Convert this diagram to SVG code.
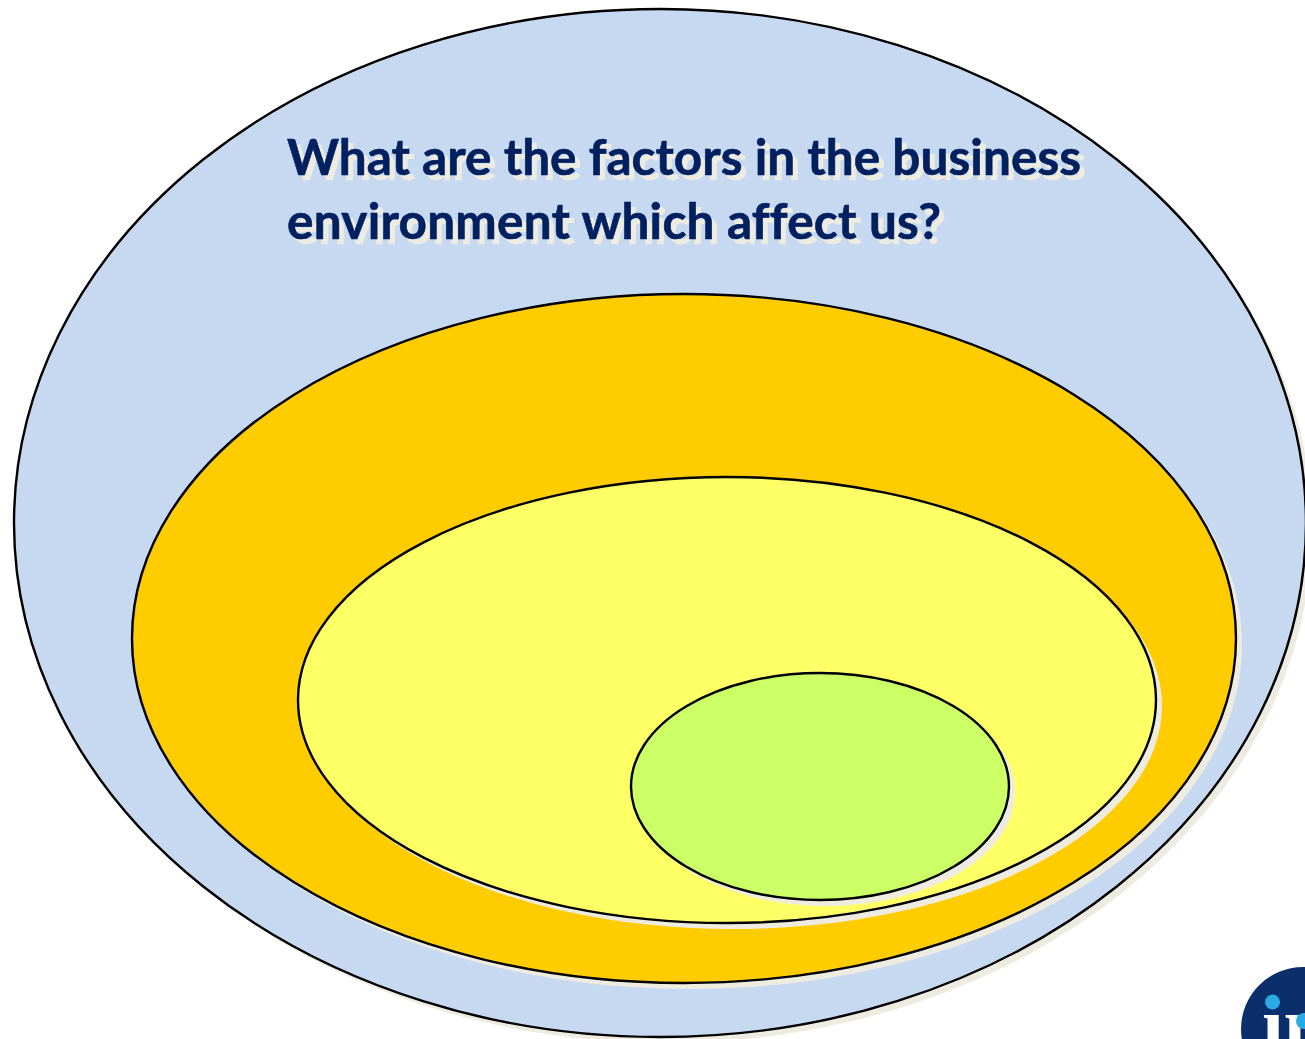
<svg xmlns="http://www.w3.org/2000/svg" width="1305" height="1039" viewBox="0 0 1305 1039">
<style>
.s{fill:#eeece1;stroke:none}
.e{stroke:#000;stroke-width:2.4}
.t{font-family:"Lato","Carlito","Liberation Sans",sans-serif;font-weight:700;font-size:49.5px;fill:#002060;stroke:#002060;stroke-width:.6;font-variant-ligatures:none;filter:url(#ts)}
</style>
<defs>
<filter id="ts" x="-5%" y="-20%" width="110%" height="150%" color-interpolation-filters="sRGB">
<feOffset in="SourceAlpha" dx="5" dy="5" result="o"/>
<feFlood flood-color="#eeece1"/>
<feComposite in2="o" operator="in" result="c"/>
<feMerge><feMergeNode in="c"/><feMergeNode in="SourceGraphic"/></feMerge>
</filter>
</defs>
<rect width="1305" height="1039" fill="#fff"/>
<g id="outer-ellipse"><ellipse class="s" cx="666" cy="529" rx="646" ry="514"/><ellipse class="e" cx="660" cy="523" rx="646" ry="514" fill="#c6d9f1"/></g>
<g id="orange-ellipse"><ellipse class="s" cx="690" cy="644.5" rx="552" ry="344.5"/><ellipse class="e" cx="684" cy="638.5" rx="552" ry="344.5" fill="#ffcc00"/></g>
<g id="yellow-ellipse"><ellipse class="s" cx="733" cy="706" rx="429" ry="223"/><ellipse class="e" cx="727" cy="700" rx="429" ry="223" fill="#ffff66"/></g>
<g id="green-ellipse"><ellipse class="s" cx="826" cy="792.5" rx="189" ry="113.5"/><ellipse class="e" cx="820" cy="786.5" rx="189" ry="113.5" fill="#ccff66"/></g>
<g id="title">
<text class="t" x="287" y="175" textLength="794" lengthAdjust="spacing">What are the factors in the business</text>
<text class="t" x="287" y="239" textLength="654" lengthAdjust="spacing">environment which affect us?</text>
</g>
<g id="logo">
<circle cx="1303" cy="1029" r="62" fill="#0a2f6b"/>
<circle cx="1272.5" cy="1002" r="7.5" fill="#29aae2"/>
<text x="1262" y="1051" font-family="Liberation Serif,serif" font-weight="700" font-size="78" fill="#fff">ıı</text>
<circle cx="1304" cy="1021" r="8" fill="#29aae2"/>
</g>
</svg>
